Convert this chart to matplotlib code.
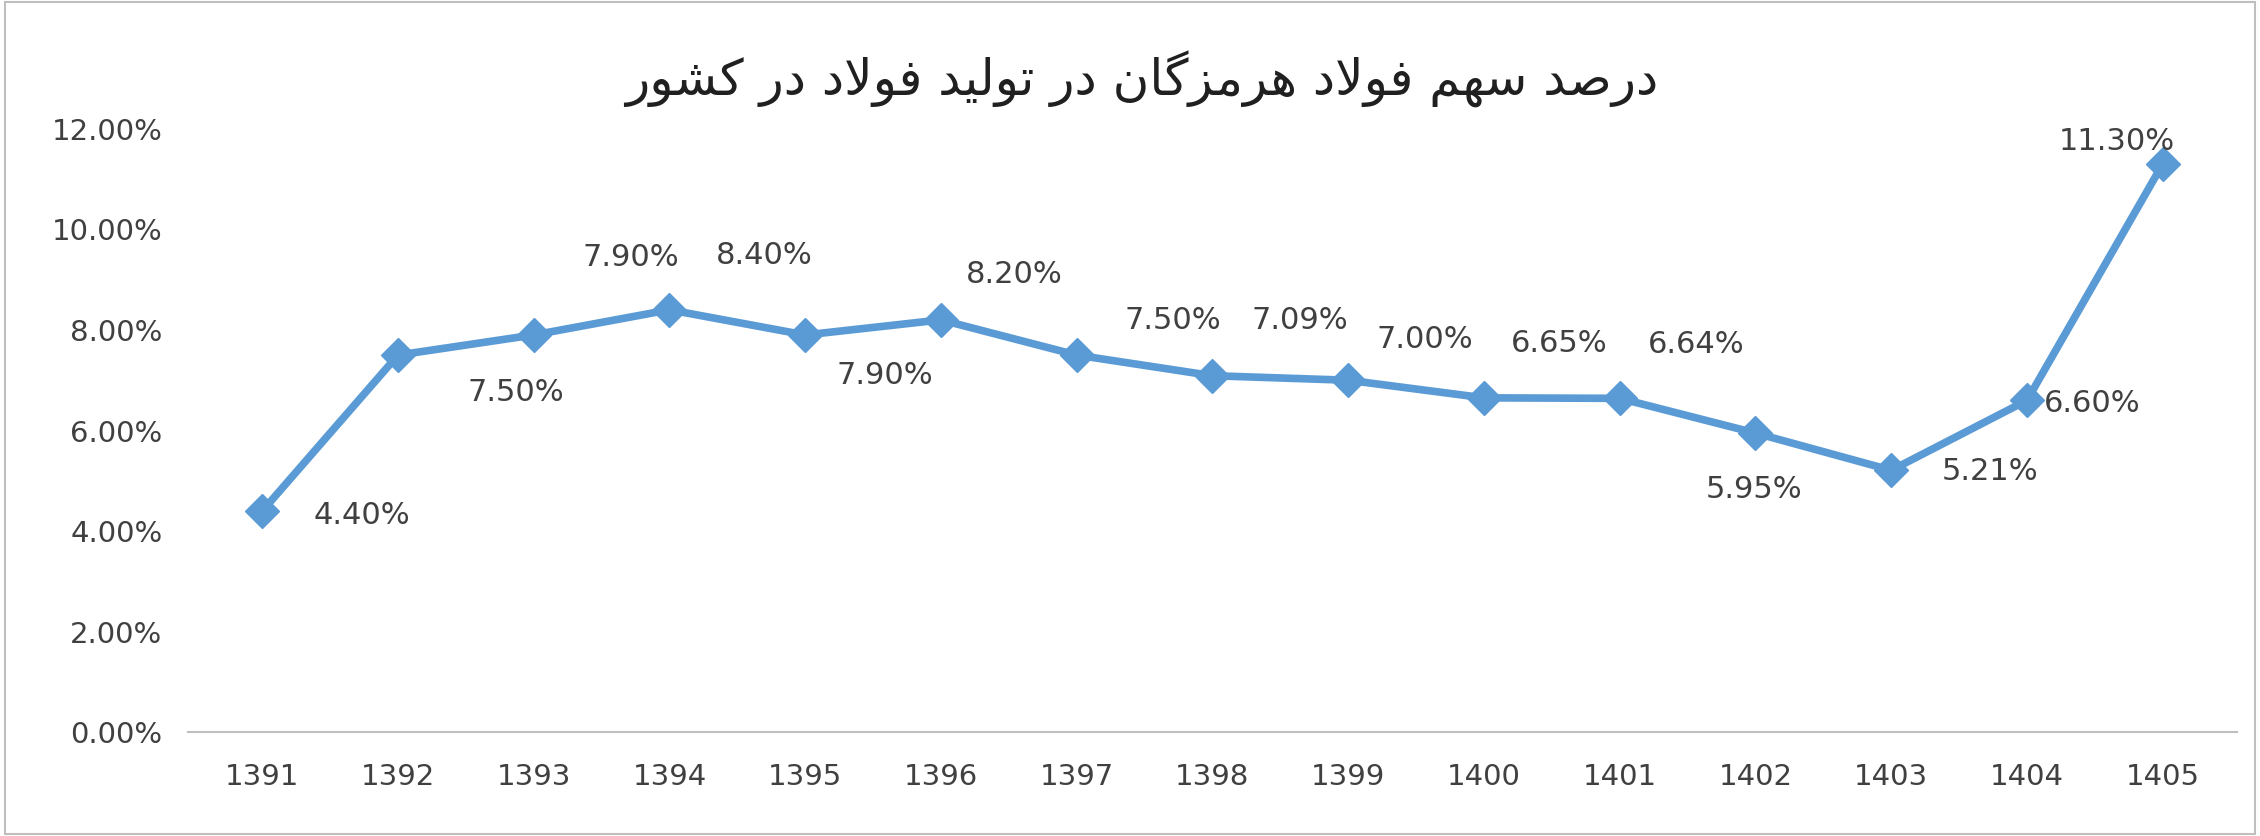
import unicodedata
import matplotlib
matplotlib.use("Agg")
import matplotlib.pyplot as plt
from matplotlib.ticker import FuncFormatter

years = ["1391", "1392", "1393", "1394", "1395", "1396", "1397", "1398",
         "1399", "1400", "1401", "1402", "1403", "1404", "1405"]
share = [4.40, 7.50, 7.90, 8.40, 7.90, 8.20, 7.50, 7.09,
         7.00, 6.65, 6.64, 5.95, 5.21, 6.60, 11.30]
# label offsets (points)
label_dx = [72, 85, 70, 68, 57, 53, 69, 63, 55, 54, 55, -1, 71, 47, -33]
label_dy = [-3, -27, 56, 39, -29, 33, 25, 40, 29, 39, 39, -41, -1, -2, 16]
title_fa = "درصد سهم فولاد هرمزگان در تولید فولاد در کشور"

RIGHT_ONLY = set("اآأإدذرزژو")


def _form(ch, kind):
    try:
        return unicodedata.lookup(unicodedata.name(ch) + " " + kind + " FORM")
    except KeyError:
        return ch


def shape_rtl(text):
    # minimal Arabic-script shaping + visual reorder for matplotlib
    def is_ar(c):
        return c is not None and "\u0600" <= c <= "\u06ff"
    out, i = [], 0
    while i < len(text):
        c = text[i]
        prev = text[i - 1] if i > 0 else None
        nxt = text[i + 1] if i + 1 < len(text) else None
        if not is_ar(c):
            out.append(c); i += 1; continue
        jp = is_ar(prev) and prev not in RIGHT_ONLY
        if c == "ل" and nxt == "ا":
            out.append("\ufefc" if jp else "\ufefb"); i += 2; continue
        jn = c not in RIGHT_ONLY and is_ar(nxt)
        kind = "MEDIAL" if jp and jn else "FINAL" if jp else "INITIAL" if jn else "ISOLATED"
        out.append(_form(c, kind)); i += 1
    return "".join(reversed(out))


plt.rcParams["font.family"] = ["DejaVu Sans"]
fig = plt.figure(figsize=(22.6, 8.36), dpi=100)
ax = fig.add_axes([0.083, 0.124, 0.907, 0.722])

x = list(range(len(years)))
ax.plot(x, share, color="#5B9BD5", lw=5.5, marker="D", ms=17, zorder=3)
for xi, v, dx, dy in zip(x, share, label_dx, label_dy):
    ax.annotate(f"{v:.2f}%", (xi, v), xytext=(dx, dy), textcoords="offset points",
                ha="center", va="center", fontsize=22, color="#404040")

ax.set_xlim(-0.55, len(years) - 0.45)
ax.set_ylim(0, 12)
ax.set_yticks([0, 2, 4, 6, 8, 10, 12])
ax.yaxis.set_major_formatter(FuncFormatter(lambda v, _: f"{v:.2f}%"))
ax.set_xticks(x)
ax.set_xticklabels(years)
ax.tick_params(length=0, labelsize=21, labelcolor="#404040")
ax.tick_params(axis="x", pad=22)
ax.tick_params(axis="y", pad=18)
for s in ["top", "right", "left"]:
    ax.spines[s].set_visible(False)
ax.spines["bottom"].set_color("#BFBFBF")
ax.spines["bottom"].set_linewidth(1.5)

fig.text(0.505, 0.905, shape_rtl(title_fa), ha="center", va="center",
         fontsize=36, color="#202020")
fig.patches.append(plt.Rectangle((0.002, 0.002), 0.996, 0.996, transform=fig.transFigure,
                                 fill=False, edgecolor="#BFBFBF", lw=1.5))

fig.savefig("out.png", dpi=100)
